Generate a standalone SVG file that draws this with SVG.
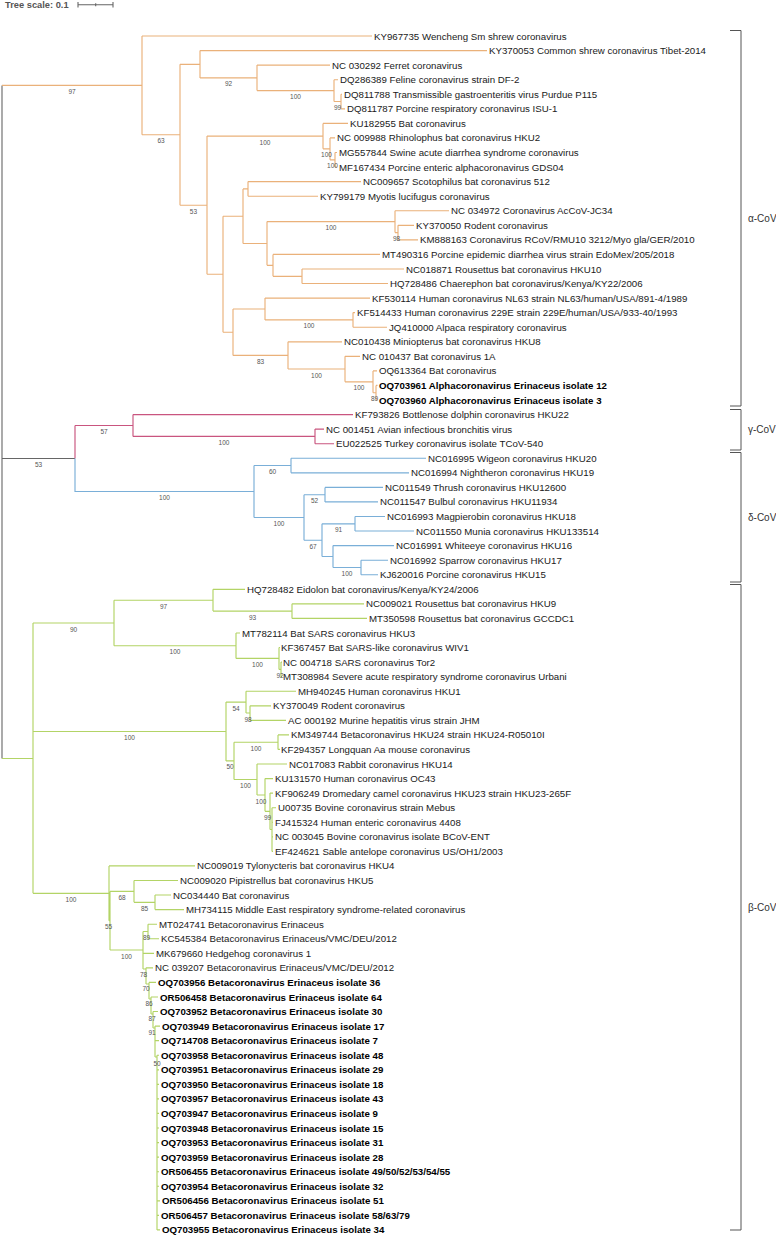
<svg xmlns="http://www.w3.org/2000/svg" width="776" height="1238" viewBox="0 0 776 1238">
<style>
.l{font-family:"Liberation Sans",Arial,sans-serif;font-size:9.7px;fill:#1a1a1a}
.b{font-weight:bold;fill:#000}
.s{font-family:"Liberation Sans",Arial,sans-serif;font-size:6.5px;fill:#555;text-anchor:middle}
.k{font-family:"Liberation Sans",Arial,sans-serif;font-size:10px;fill:#333}
.ca{fill:none;stroke:#eab17a;stroke-width:1.15}
.cg{fill:none;stroke:#c9557f;stroke-width:1.15}
.cd{fill:none;stroke:#7aafd8;stroke-width:1.15}
.cb{fill:none;stroke:#b3d466;stroke-width:1.15}
.cr{fill:none;stroke:#666;stroke-width:1.1}
.br{fill:none;stroke:#555;stroke-width:1}
</style>
<rect width="776" height="1238" fill="#fff"/>
<g id="scale">
<text x="5" y="8.3" style="font-family:'Liberation Sans',Arial,sans-serif;font-size:9.3px;font-weight:bold;fill:#555">Tree scale: 0.1</text>
<path class="cr" d="M78 4.7H113M78 2V7.4M95.7 3.2V6.2M113 2V7.4"/>
</g>
<g id="connectors">
<path class="cr" d="M2 85.4V758.5M2 458.5H75"/>
<path class="ca" d="M2 85.4H142M142 36V134.7M142 36H372M142 134.7H180
M180 64.3V205.2M180 64.3H200M180 205.2H207
M200 50.6V77.9M200 50.6H487M200 77.9H257
M257 65.1V90.6M257 65.1H330M257 90.6H334
M334 79.7V101.5M334 79.7H338M334 101.5H341
M341 94.2V108.8M341 94.2H342M341 108.8H345
M207 136.1V274.2M207 136.1H323M207 274.2H223
M323 123.4V148.8M323 123.4H348M323 148.8H330
M330 137.9V159.8M330 137.9H335M330 159.8H335
M335 152.5V167M335 152.5H337M335 167H337
M223 216.2V332.2M223 216.2H243M223 332.2H233
M243 188.9V243.5M243 188.9H248M243 243.5H267
M248 181.6V196.2M248 181.6H361M248 196.2H318
M267 221.6V265.3M267 221.6H395M267 265.3H273
M395 210.7V232.6M395 210.7H449M395 232.6H398
M398 225.3V239.8M398 225.3H414M398 239.8H418
M273 254.4V276.3M273 254.4H380M273 276.3H302
M302 269V283.5M302 269H404M302 283.5H388
M233 309V355.4M233 309H265M233 355.4H288
M265 298.1V319.9M265 298.1H370M265 319.9H353
M353 312.6V327.2M353 312.6H355M353 327.2H387
M288 341.8V369M288 341.8H342M288 369H345
M345 356.3V381.8M345 356.3H360M345 381.8H373
M373 370.9V392.7M373 370.9H377M373 392.7H376
M376 385.4V400M376 385.4H377.5M376 400H377.5"/>
<path class="cg" d="M75 425.5V458.5M75 425.5H133M133 414.6V436.4M133 414.6H353M133 436.4H315M315 429.1V443.7M315 429.1H324M315 443.7H334"/>
<path class="cd" d="M75 458.5V491.5H254M254 465.5V517.5M254 465.5H291M254 517.5H304
M291 458.2V472.8M291 458.2H426M291 472.8H409
M304 494.7V540.2M304 494.7H325M304 540.2H322
M325 487.4V501.9M325 487.4H383M325 501.9H378
M322 523.8V556.5M322 523.8H355M322 556.5H333
M355 516.5V531M355 516.5H385M355 531H414
M333 545.6V567.5M333 545.6H394M333 567.5H361
M361 560.2V574.7M361 560.2H388M361 574.7H378"/>
<path class="cb" d="M2 758.5H33M33 623V893.3M33 623H114M33 731.5H226M33 893.3H109
M114 600.2V645.7M114 600.2H213M114 645.7H236
M213 589.3V611.1M213 589.3H245M213 611.1H292
M292 603.8V618.4M292 603.8H364M292 618.4H367
M236 633V658.4M236 633H240M236 658.4H279
M279 647.5V669.4M279 647.5H280M279 669.4H281
M281 662.1V676.6M281 662.1H282M281 676.6H282
M226 702.1V760.9M226 702.1H246M226 760.9H234
M246 691.2V713M246 691.2H296M246 713H250
M250 705.8V720.3M250 705.8H271M250 720.3H286
M234 742.2V779.5M234 742.2H278M234 779.5H257
M278 734.9V749.4M278 734.9H289M278 749.4H280
M257 764V795M257 764H287M257 795H265
M265 778.6V811.3M265 778.6H273M265 811.3H270
M270 793.1V829.5M270 793.1H273M270 829.5H272
M272 807.7V851.4M272 807.7H276M272 822.2H273M272 836.8H273M272 851.4H273
M109 865.9V920.7M109 865.9H195M109 920.7H110
M110 891.4V950M110 891.4H134M110 950H143
M134 880.5V902.3M134 880.5H178M134 902.3H155
M155 895V909.6M155 895H171M155 909.6H184
M143 931.5V969M143 931.5H148M143 953.3H154M143 969H146
M148 924.2V938.7M148 924.2H157M148 938.7H159
M146 967.8V984M146 967.8H153M146 984H149
M149 982.4V999M149 982.4H156M149 999H151
M151 997V1014M151 997H158M151 1014H153
M153 1011.5V1028M153 1011.5H158M153 1028H155
M155 1026.1V1057M155 1026.1H160M155 1040.6H159M155 1057H157
M157 1055.2V1229.9M157 1055.2H159M157 1069.8H159M157 1084.3H159M157 1098.9H159M157 1113.4H159M157 1128H159M157 1142.6H159M157 1157.1H159M157 1171.7H159M157 1186.2H159M157 1200.8H160M157 1215.4H159M157 1229.9H160"/>
</g>
<g id="supports">
<text class="s" x="72" y="93.9">97</text>
<text class="s" x="228.5" y="86.4">92</text>
<text class="s" x="295.5" y="99.1">100</text>
<text class="s" x="337.5" y="110">99</text>
<text class="s" x="161" y="143.2">63</text>
<text class="s" x="193.4" y="213.7">53</text>
<text class="s" x="265" y="144.6">100</text>
<text class="s" x="326.5" y="157.3">100</text>
<text class="s" x="332.5" y="168.3">100</text>
<text class="s" x="331" y="230.1">100</text>
<text class="s" x="396.5" y="241.1">98</text>
<text class="s" x="309" y="328.4">100</text>
<text class="s" x="260.5" y="363.9">83</text>
<text class="s" x="316.5" y="377.5">100</text>
<text class="s" x="359" y="390.3">100</text>
<text class="s" x="374.5" y="401.2">89</text>
<text class="s" x="104" y="434">57</text>
<text class="s" x="224" y="444.9">100</text>
<text class="s" x="38.5" y="467">53</text>
<text class="s" x="164.5" y="500">100</text>
<text class="s" x="272.5" y="474">60</text>
<text class="s" x="279" y="526">100</text>
<text class="s" x="314.5" y="503.2">52</text>
<text class="s" x="313" y="548.7">67</text>
<text class="s" x="338.5" y="532.3">91</text>
<text class="s" x="347" y="576">100</text>
<text class="s" x="73.5" y="631.5">90</text>
<text class="s" x="163.5" y="608.7">97</text>
<text class="s" x="252.5" y="619.6">93</text>
<text class="s" x="175" y="654.2">100</text>
<text class="s" x="257.5" y="666.9">100</text>
<text class="s" x="280" y="677.9">92</text>
<text class="s" x="129.5" y="740">100</text>
<text class="s" x="236" y="710.6">54</text>
<text class="s" x="248" y="721.5">98</text>
<text class="s" x="230" y="769.4">50</text>
<text class="s" x="256" y="750.7">100</text>
<text class="s" x="245.5" y="788">100</text>
<text class="s" x="261" y="803.5">100</text>
<text class="s" x="267.5" y="819.8">99</text>
<text class="s" x="71" y="901.8">100</text>
<text class="s" x="108.5" y="929.2">55</text>
<text class="s" x="122" y="899.9">68</text>
<text class="s" x="144.5" y="910.8">85</text>
<text class="s" x="126.5" y="958.5">100</text>
<text class="s" x="146.5" y="939.5">89</text>
<text class="s" x="143.5" y="976.5">78</text>
<text class="s" x="146" y="991">70</text>
<text class="s" x="149" y="1005.5">86</text>
<text class="s" x="152" y="1020.5">87</text>
<text class="s" x="152" y="1034.5">91</text>
<text class="s" x="157" y="1065.5">50</text>
</g>
<g id="L01"><text class="l" x="374" y="39.5">KY967735 Wencheng Sm shrew coronavirus</text></g>
<g id="L02"><text class="l" x="489" y="54.1">KY370053 Common shrew coronavirus Tibet-2014</text></g>
<g id="L03"><text class="l" x="332" y="68.6">NC 030292 Ferret coronavirus</text></g>
<g id="L04"><text class="l" x="340" y="83.2">DQ286389 Feline coronavirus strain DF-2</text></g>
<g id="L05"><text class="l" x="344" y="97.7">DQ811788 Transmissible gastroenteritis virus Purdue P115</text></g>
<g id="L06"><text class="l" x="347" y="112.3">DQ811787 Porcine respiratory coronavirus ISU-1</text></g>
<g id="L07"><text class="l" x="350" y="126.9">KU182955 Bat coronavirus</text></g>
<g id="L08"><text class="l" x="337" y="141.4">NC 009988 Rhinolophus bat coronavirus HKU2</text></g>
<g id="L09"><text class="l" x="339" y="156">MG557844 Swine acute diarrhea syndrome coronavirus</text></g>
<g id="L10"><text class="l" x="339" y="170.5">MF167434 Porcine enteric alphacoronavirus GDS04</text></g>
<g id="L11"><text class="l" x="363" y="185.1">NC009657 Scotophilus bat coronavirus 512</text></g>
<g id="L12"><text class="l" x="320" y="199.7">KY799179 Myotis lucifugus coronavirus</text></g>
<g id="L13"><text class="l" x="451" y="214.2">NC 034972 Coronavirus AcCoV-JC34</text></g>
<g id="L14"><text class="l" x="416" y="228.8">KY370050 Rodent coronavirus</text></g>
<g id="L15"><text class="l" x="420" y="243.3">KM888163 Coronavirus RCoV/RMU10 3212/Myo gla/GER/2010</text></g>
<g id="L16"><text class="l" x="382" y="257.9">MT490316 Porcine epidemic diarrhea virus strain EdoMex/205/2018</text></g>
<g id="L17"><text class="l" x="406" y="272.5">NC018871 Rousettus bat coronavirus HKU10</text></g>
<g id="L18"><text class="l" x="390" y="287">HQ728486 Chaerephon bat coronavirus/Kenya/KY22/2006</text></g>
<g id="L19"><text class="l" x="372" y="301.6">KF530114 Human coronavirus NL63 strain NL63/human/USA/891-4/1989</text></g>
<g id="L20"><text class="l" x="357" y="316.1">KF514433 Human coronavirus 229E strain 229E/human/USA/933-40/1993</text></g>
<g id="L21"><text class="l" x="389" y="330.7">JQ410000 Alpaca respiratory coronavirus</text></g>
<g id="L22"><text class="l" x="344" y="345.3">NC010438 Miniopterus bat coronavirus HKU8</text></g>
<g id="L23"><text class="l" x="362" y="359.8">NC 010437 Bat coronavirus 1A</text></g>
<g id="L24"><text class="l" x="379" y="374.4">OQ613364 Bat coronavirus</text></g>
<g id="L25"><text class="l b" x="379" y="388.9">OQ703961 Alphacoronavirus Erinaceus isolate 12</text></g>
<g id="L26"><text class="l b" x="379" y="403.5">OQ703960 Alphacoronavirus Erinaceus isolate 3</text></g>
<g id="L27"><text class="l" x="355" y="418.1">KF793826 Bottlenose dolphin coronavirus HKU22</text></g>
<g id="L28"><text class="l" x="326" y="432.6">NC 001451 Avian infectious bronchitis virus</text></g>
<g id="L29"><text class="l" x="336" y="447.2">EU022525 Turkey coronavirus isolate TCoV-540</text></g>
<g id="L30"><text class="l" x="428" y="461.7">NC016995 Wigeon coronavirus HKU20</text></g>
<g id="L31"><text class="l" x="411" y="476.3">NC016994 Nightheron coronavirus HKU19</text></g>
<g id="L32"><text class="l" x="385" y="490.9">NC011549 Thrush coronavirus HKU12600</text></g>
<g id="L33"><text class="l" x="380" y="505.4">NC011547 Bulbul coronavirus HKU11934</text></g>
<g id="L34"><text class="l" x="387" y="520">NC016993 Magpierobin coronavirus HKU18</text></g>
<g id="L35"><text class="l" x="416" y="534.5">NC011550 Munia coronavirus HKU133514</text></g>
<g id="L36"><text class="l" x="396" y="549.1">NC016991 Whiteeye coronavirus HKU16</text></g>
<g id="L37"><text class="l" x="390" y="563.7">NC016992 Sparrow coronavirus HKU17</text></g>
<g id="L38"><text class="l" x="380" y="578.2">KJ620016 Porcine coronavirus HKU15</text></g>
<g id="L39"><text class="l" x="247" y="592.8">HQ728482 Eidolon bat coronavirus/Kenya/KY24/2006</text></g>
<g id="L40"><text class="l" x="366" y="607.3">NC009021 Rousettus bat coronavirus HKU9</text></g>
<g id="L41"><text class="l" x="369" y="621.9">MT350598 Rousettus bat coronavirus GCCDC1</text></g>
<g id="L42"><text class="l" x="242" y="636.5">MT782114 Bat SARS coronavirus HKU3</text></g>
<g id="L43"><text class="l" x="281" y="651">KF367457 Bat SARS-like coronavirus WIV1</text></g>
<g id="L44"><text class="l" x="283" y="665.6">NC 004718 SARS coronavirus Tor2</text></g>
<g id="L45"><text class="l" x="283" y="680.1">MT308984 Severe acute respiratory syndrome coronavirus Urbani</text></g>
<g id="L46"><text class="l" x="298" y="694.7">MH940245 Human coronavirus HKU1</text></g>
<g id="L47"><text class="l" x="273" y="709.3">KY370049 Rodent coronavirus</text></g>
<g id="L48"><text class="l" x="288" y="723.8">AC 000192 Murine hepatitis virus strain JHM</text></g>
<g id="L49"><text class="l" x="291" y="738.4">KM349744 Betacoronavirus HKU24 strain HKU24-R05010I</text></g>
<g id="L50"><text class="l" x="281" y="752.9">KF294357 Longquan Aa mouse coronavirus</text></g>
<g id="L51"><text class="l" x="289" y="767.5">NC017083 Rabbit coronavirus HKU14</text></g>
<g id="L52"><text class="l" x="275" y="782.1">KU131570 Human coronavirus OC43</text></g>
<g id="L53"><text class="l" x="275" y="796.6">KF906249 Dromedary camel coronavirus HKU23 strain HKU23-265F</text></g>
<g id="L54"><text class="l" x="278" y="811.2">U00735 Bovine coronavirus strain Mebus</text></g>
<g id="L55"><text class="l" x="275" y="825.7">FJ415324 Human enteric coronavirus 4408</text></g>
<g id="L56"><text class="l" x="275" y="840.3">NC 003045 Bovine coronavirus isolate BCoV-ENT</text></g>
<g id="L57"><text class="l" x="275" y="854.9">EF424621 Sable antelope coronavirus US/OH1/2003</text></g>
<g id="L58"><text class="l" x="197" y="869.4">NC009019 Tylonycteris bat coronavirus HKU4</text></g>
<g id="L59"><text class="l" x="180" y="884">NC009020 Pipistrellus bat coronavirus HKU5</text></g>
<g id="L60"><text class="l" x="173" y="898.5">NC034440 Bat coronavirus</text></g>
<g id="L61"><text class="l" x="186" y="913.1">MH734115 Middle East respiratory syndrome-related coronavirus</text></g>
<g id="L62"><text class="l" x="159" y="927.7">MT024741 Betacoronavirus Erinaceus</text></g>
<g id="L63"><text class="l" x="161" y="942.2">KC545384 Betacoronavirus Erinaceus/VMC/DEU/2012</text></g>
<g id="L64"><text class="l" x="156" y="956.8">MK679660 Hedgehog coronavirus 1</text></g>
<g id="L65"><text class="l" x="155" y="971.3">NC 039207 Betacoronavirus Erinaceus/VMC/DEU/2012</text></g>
<g id="L66"><text class="l b" x="158" y="985.9">OQ703956 Betacoronavirus Erinaceus isolate 36</text></g>
<g id="L67"><text class="l b" x="160" y="1000.5">OR506458 Betacoronavirus Erinaceus isolate 64</text></g>
<g id="L68"><text class="l b" x="160" y="1015">OQ703952 Betacoronavirus Erinaceus isolate 30</text></g>
<g id="L69"><text class="l b" x="162" y="1029.6">OQ703949 Betacoronavirus Erinaceus isolate 17</text></g>
<g id="L70"><text class="l b" x="161" y="1044.1">OQ714708 Betacoronavirus Erinaceus isolate 7</text></g>
<g id="L71"><text class="l b" x="161" y="1058.7">OQ703958 Betacoronavirus Erinaceus isolate 48</text></g>
<g id="L72"><text class="l b" x="161" y="1073.3">OQ703951 Betacoronavirus Erinaceus isolate 29</text></g>
<g id="L73"><text class="l b" x="161" y="1087.8">OQ703950 Betacoronavirus Erinaceus isolate 18</text></g>
<g id="L74"><text class="l b" x="161" y="1102.4">OQ703957 Betacoronavirus Erinaceus isolate 43</text></g>
<g id="L75"><text class="l b" x="161" y="1116.9">OQ703947 Betacoronavirus Erinaceus isolate 9</text></g>
<g id="L76"><text class="l b" x="161" y="1131.5">OQ703948 Betacoronavirus Erinaceus isolate 15</text></g>
<g id="L77"><text class="l b" x="161" y="1146.1">OQ703953 Betacoronavirus Erinaceus isolate 31</text></g>
<g id="L78"><text class="l b" x="161" y="1160.6">OQ703959 Betacoronavirus Erinaceus isolate 28</text></g>
<g id="L79"><text class="l b" x="161" y="1175.2">OR506455 Betacoronavirus Erinaceus isolate 49/50/52/53/54/55</text></g>
<g id="L80"><text class="l b" x="161" y="1189.7">OQ703954 Betacoronavirus Erinaceus isolate 32</text></g>
<g id="L81"><text class="l b" x="162" y="1204.3">OR506456 Betacoronavirus Erinaceus isolate 51</text></g>
<g id="L82"><text class="l b" x="161" y="1218.9">OR506457 Betacoronavirus Erinaceus isolate 58/63/79</text></g>
<g id="L83"><text class="l b" x="162" y="1233.4">OQ703955 Betacoronavirus Erinaceus isolate 34</text></g>
<g id="alpha-cov"><path class="br" d="M730 30.5H741V406H730"/><text class="k" x="748" y="221.5">α-CoV</text></g>
<g id="gamma-cov"><path class="br" d="M730 409.5H741V450H730"/><text class="k" x="748" y="432.5">γ-CoV</text></g>
<g id="delta-cov"><path class="br" d="M730 452.5H741V582H730"/><text class="k" x="748" y="520.5">δ-CoV</text></g>
<g id="beta-cov"><path class="br" d="M730 584.5H741V1230H730"/><text class="k" x="748" y="910.5">β-CoV</text></g>
</svg>
